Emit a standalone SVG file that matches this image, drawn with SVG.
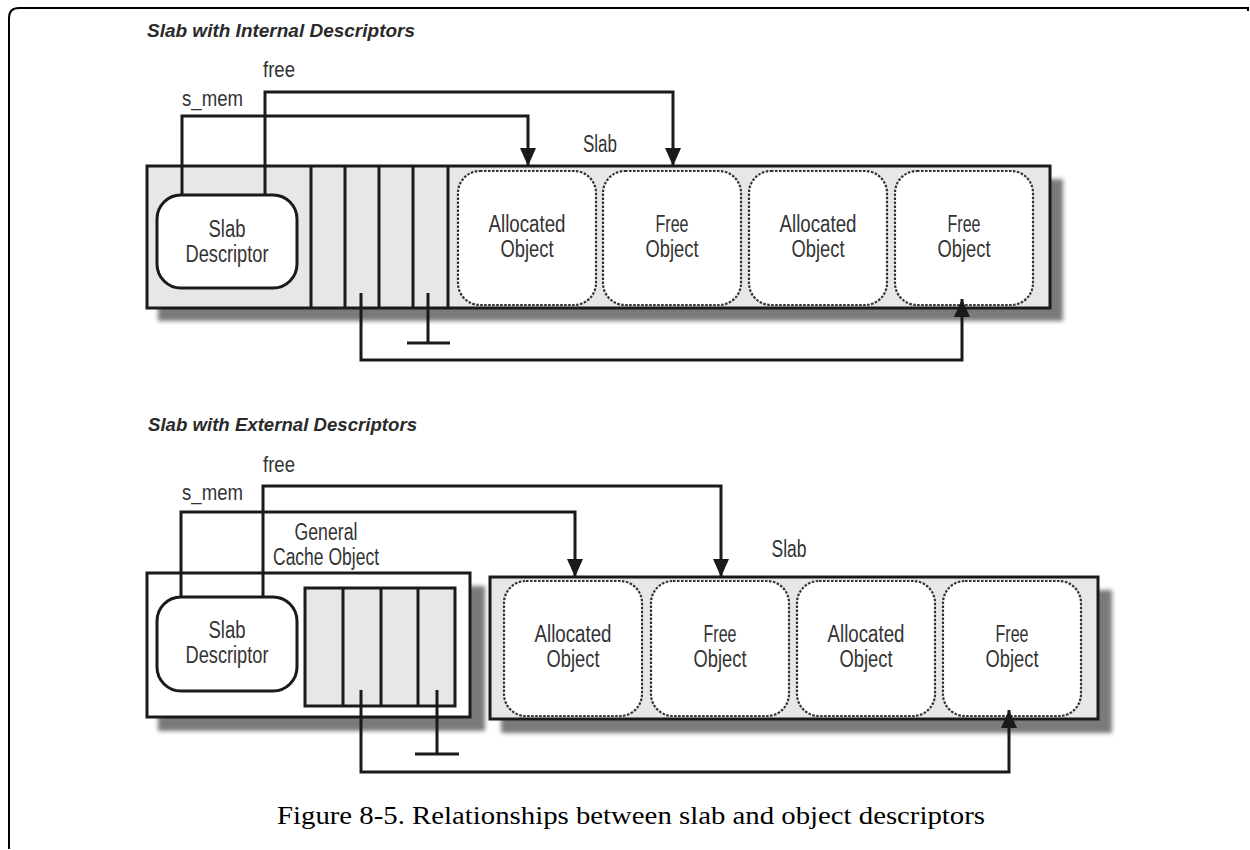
<svg xmlns="http://www.w3.org/2000/svg" width="1250" height="850" viewBox="0 0 1250 850">
<style>
.lbl{font-family:"Liberation Sans Narrow","Liberation Sans",Arial,sans-serif;font-size:23px;fill:#333;text-anchor:middle}
.lbll{font-family:"Liberation Sans Narrow","Liberation Sans",Arial,sans-serif;font-size:22px;fill:#333}
.title{font-family:"Liberation Sans",Arial,sans-serif;font-size:19px;font-weight:bold;font-style:italic;fill:#2a2a2a}
.cap{font-family:"Liberation Serif","Times New Roman",serif;font-size:25px;fill:#000}
.box{fill:#e6e7e8;stroke:#1a1a1a;stroke-width:3}
.wbox{fill:#fff;stroke:#1a1a1a;stroke-width:3}
.desc{fill:#fff;stroke:#1a1a1a;stroke-width:3}
.obj{fill:#fff;stroke:#333;stroke-width:2.2;stroke-dasharray:2.5 1.5}
.div{stroke:#1a1a1a;stroke-width:3}
.shadow{fill:#7a7a7a;filter:url(#blur)}
.conn{fill:none;stroke:#1a1a1a;stroke-width:3}
.frame{fill:none;stroke:#000;stroke-width:2}
</style>
<defs>
<filter id="blur" x="-5%" y="-20%" width="110%" height="140%"><feGaussianBlur stdDeviation="2"/></filter>
<marker id="arr" viewBox="0 0 18 16" refX="18" refY="8" markerWidth="18" markerHeight="16" markerUnits="userSpaceOnUse" orient="auto"><path d="M0,0 L18,8 L0,16 z" fill="#1a1a1a"/></marker>
</defs>
<rect width="1250" height="850" fill="#fff"/>
<path class="frame" d="M9,849 V18 Q9,8 19,8 H1248 V11"/>

<text class="title" x="147" y="37" textLength="268" lengthAdjust="spacingAndGlyphs">Slab with Internal Descriptors</text>
<text class="title" x="148" y="431" textLength="269" lengthAdjust="spacingAndGlyphs">Slab with External Descriptors</text>

<g id="top-slab">
<rect class="shadow" x="158" y="179" width="905" height="142"/>
<rect class="box" x="147" y="166" width="903" height="142"/>
<line class="div" x1="311" y1="166" x2="311" y2="308"/>
<line class="div" x1="345" y1="166" x2="345" y2="308"/>
<line class="div" x1="379" y1="166" x2="379" y2="308"/>
<line class="div" x1="413" y1="166" x2="413" y2="308"/>
<line class="div" x1="448" y1="166" x2="448" y2="308"/>
<text class="lbl" x="600" y="152" textLength="34" lengthAdjust="spacingAndGlyphs">Slab</text>
</g>
<g id="top-descriptor">
<rect class="desc" x="157" y="195" width="140" height="93" rx="24"/>
<text class="lbl" x="227" y="237" textLength="37" lengthAdjust="spacingAndGlyphs">Slab</text>
<text class="lbl" x="227" y="262" textLength="83" lengthAdjust="spacingAndGlyphs">Descriptor</text>
</g>
<g id="top-obj1">
<rect class="obj" x="458" y="171" width="138" height="134" rx="22"/>
<text class="lbl" x="527" y="232" textLength="77" lengthAdjust="spacingAndGlyphs">Allocated</text>
<text class="lbl" x="527" y="257" textLength="53" lengthAdjust="spacingAndGlyphs">Object</text>
</g>
<g id="top-obj2">
<rect class="obj" x="603" y="171" width="138" height="134" rx="22"/>
<text class="lbl" x="672" y="232" textLength="33" lengthAdjust="spacingAndGlyphs">Free</text>
<text class="lbl" x="672" y="257" textLength="53" lengthAdjust="spacingAndGlyphs">Object</text>
</g>
<g id="top-obj3">
<rect class="obj" x="749" y="171" width="138" height="134" rx="22"/>
<text class="lbl" x="818" y="232" textLength="77" lengthAdjust="spacingAndGlyphs">Allocated</text>
<text class="lbl" x="818" y="257" textLength="53" lengthAdjust="spacingAndGlyphs">Object</text>
</g>
<g id="top-obj4">
<rect class="obj" x="895" y="171" width="138" height="134" rx="22"/>
<text class="lbl" x="964" y="232" textLength="33" lengthAdjust="spacingAndGlyphs">Free</text>
<text class="lbl" x="964" y="257" textLength="53" lengthAdjust="spacingAndGlyphs">Object</text>
</g>

<g id="bottom-cache">
<rect class="shadow" x="158" y="586" width="327" height="145"/>
<rect class="wbox" x="147" y="573" width="323" height="144"/>
<rect class="box" x="305" y="588" width="150" height="118"/>
<line class="div" x1="343" y1="588" x2="343" y2="706"/>
<line class="div" x1="381" y1="588" x2="381" y2="706"/>
<line class="div" x1="418" y1="588" x2="418" y2="706"/>
<text class="lbl" x="326" y="540" textLength="63" lengthAdjust="spacingAndGlyphs">General</text>
<text class="lbl" x="326" y="565" textLength="106" lengthAdjust="spacingAndGlyphs">Cache Object</text>
</g>
<g id="bottom-descriptor">
<rect class="desc" x="157" y="597" width="140" height="94" rx="24"/>
<text class="lbl" x="227" y="638" textLength="37" lengthAdjust="spacingAndGlyphs">Slab</text>
<text class="lbl" x="227" y="663" textLength="83" lengthAdjust="spacingAndGlyphs">Descriptor</text>
</g>
<g id="bottom-slab">
<rect class="shadow" x="501" y="590" width="611" height="143"/>
<rect class="box" x="490" y="577" width="608" height="142"/>
<text class="lbl" x="789" y="557" textLength="35" lengthAdjust="spacingAndGlyphs">Slab</text>
</g>
<g id="bottom-obj1">
<rect class="obj" x="504" y="581" width="138" height="135" rx="22"/>
<text class="lbl" x="573" y="642" textLength="77" lengthAdjust="spacingAndGlyphs">Allocated</text>
<text class="lbl" x="573" y="667" textLength="53" lengthAdjust="spacingAndGlyphs">Object</text>
</g>
<g id="bottom-obj2">
<rect class="obj" x="651" y="581" width="138" height="135" rx="22"/>
<text class="lbl" x="720" y="642" textLength="33" lengthAdjust="spacingAndGlyphs">Free</text>
<text class="lbl" x="720" y="667" textLength="53" lengthAdjust="spacingAndGlyphs">Object</text>
</g>
<g id="bottom-obj3">
<rect class="obj" x="797" y="581" width="138" height="135" rx="22"/>
<text class="lbl" x="866" y="642" textLength="77" lengthAdjust="spacingAndGlyphs">Allocated</text>
<text class="lbl" x="866" y="667" textLength="53" lengthAdjust="spacingAndGlyphs">Object</text>
</g>
<g id="bottom-obj4">
<rect class="obj" x="943" y="581" width="138" height="135" rx="22"/>
<text class="lbl" x="1012" y="642" textLength="33" lengthAdjust="spacingAndGlyphs">Free</text>
<text class="lbl" x="1012" y="667" textLength="53" lengthAdjust="spacingAndGlyphs">Object</text>
</g>

<g id="connectors">
<path class="conn" d="M182,195 V116 H528 V166" marker-end="url(#arr)"/>
<path class="conn" d="M265,195 V92 H673 V166" marker-end="url(#arr)"/>
<path class="conn" d="M361,293 V360 H962 V299" marker-end="url(#arr)"/>
<path class="conn" d="M428,293 V343 M407,343 H450"/>
<path class="conn" d="M181,597 V512 H575 V577" marker-end="url(#arr)"/>
<path class="conn" d="M263,597 V486 H721 V577" marker-end="url(#arr)"/>
<path class="conn" d="M361,690 V772 H1009 V710" marker-end="url(#arr)"/>
<path class="conn" d="M437,690 V754 M415,754 H459"/>
<text class="lbll" x="263" y="77" textLength="32" lengthAdjust="spacingAndGlyphs">free</text>
<text class="lbll" x="182" y="106" textLength="61" lengthAdjust="spacingAndGlyphs">s_mem</text>
<text class="lbll" x="263" y="472" textLength="32" lengthAdjust="spacingAndGlyphs">free</text>
<text class="lbll" x="182" y="500" textLength="61" lengthAdjust="spacingAndGlyphs">s_mem</text>
</g>

<text class="cap" x="277" y="824" textLength="708" lengthAdjust="spacingAndGlyphs">Figure 8-5. Relationships between slab and object descriptors</text>
</svg>
